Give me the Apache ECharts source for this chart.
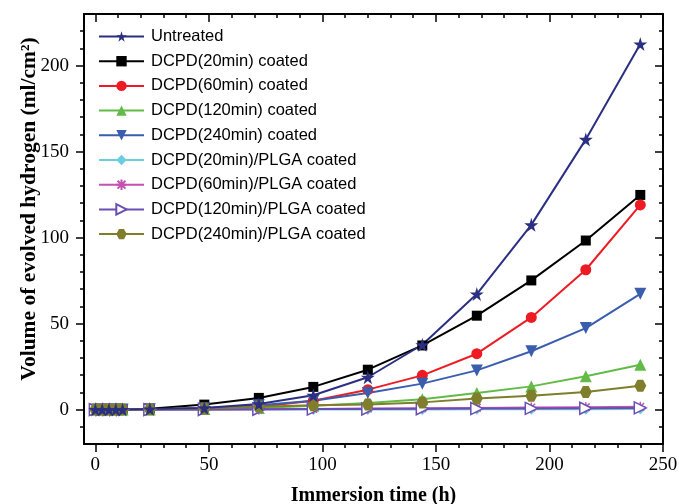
<!DOCTYPE html>
<html>
<head>
<meta charset="utf-8">
<script src="https://cdn.jsdelivr.net/npm/echarts@6/dist/echarts.min.js"></script>
<style>
  html, body { margin: 0; padding: 0; background: #fff; }
  #chart { width: 679px; height: 504px; }
</style>
</head>
<body>
<div id="chart"></div>
<script>
// Immersion times (h)
const hours = [0, 3, 6, 9, 12, 24, 48, 72, 96, 120, 144, 168, 192, 216, 240];

// Evolved hydrogen volume (ml/cm^2) for each sample
const untreated      = [0, 0, 0, 0, 0, 0.3, 1.0, 3.3, 8.3, 18.8, 37.7, 67.2, 107.4, 157.1, 212.5];
const dcpd20         = [0, 0, 0, 0, 0, 0.5, 2.9, 6.8, 13.2, 23.2, 37.3, 54.6, 75.1, 98.3, 124.8];
const dcpd60         = [0, 0, 0, 0, 0, 0.2, 0.6, 1.6, 5.2, 11.6, 19.9, 32.5, 53.6, 81.3, 119.0];
const dcpd120        = [0, 0, 0, 0, 0, 0.1, 0.4, 1.0, 2.2, 3.8, 6.0, 9.6, 13.5, 19.4, 26.1];
const dcpd240        = [0, 0, 0, 0, 0, 0.2, 0.8, 2.5, 5.2, 9.7, 15.1, 22.8, 33.9, 47.4, 67.3];
const dcpd20Plga     = [0, 0, 0, 0, 0, 0, 0, 0, 0.1, 0.1, 0.1, 0.2, 0.2, 0.2, 0.3];
const dcpd60Plga     = [0, 0, 0, 0, 0, 0, 0.1, 0.2, 0.4, 0.6, 0.8, 1.0, 1.2, 1.4, 1.6];
const dcpd120Plga    = [0, 0, 0, 0, 0, 0, 0.1, 0.2, 0.3, 0.4, 0.5, 0.6, 0.7, 0.8, 1.0];
const dcpd240Plga    = [0, 0, 0, 0, 0, 0.2, 0.7, 1.7, 2.5, 2.9, 4.2, 6.4, 8.1, 10.3, 13.9];

const seriesNames = [
  'Untreated',
  'DCPD(20min) coated',
  'DCPD(60min) coated',
  'DCPD(120min) coated',
  'DCPD(240min) coated',
  'DCPD(20min)/PLGA coated',
  'DCPD(60min)/PLGA coated',
  'DCPD(120min)/PLGA coated',
  'DCPD(240min)/PLGA coated'
];

// Axis ticks and labels
const xMajor = [0, 50, 100, 150, 200, 250];
const xMinor = [0, 10, 20, 30, 40, 50, 60, 70, 80, 90, 100, 110, 120, 130, 140, 150, 160, 170, 180, 190, 200, 210, 220, 230, 240, 250];
const yMajor = [0, 50, 100, 150, 200];
const yMinor = [-10, 0, 10, 20, 30, 40, 50, 60, 70, 80, 90, 100, 110, 120, 130, 140, 150, 160, 170, 180, 190, 200, 210, 220];

const STAR = 'path://M50,0 L61,35 L98,35 L68,57 L79,91 L50,70 L21,91 L32,57 L2,35 L39,35 Z';
const HEX = 'path://M27,2 L73,2 L98,50 L73,98 L27,98 L2,50 Z';
const ASTERISK = 'path://M50,0 L50,100 M0,50 L100,50 M12,12 L88,88 M88,12 L12,88';

function pairs(vals) {
  return hours.map((h, i) => [h, vals[i]]);
}

function lineSeries(name, vals, color, symbol, size, extra) {
  const s = {
    name: name,
    type: 'line',
    xAxisIndex: 0,
    yAxisIndex: 0,
    data: pairs(vals),
    symbol: symbol,
    symbolSize: size,
    showAllSymbol: true,
    lineStyle: { color: color, width: 2 },
    itemStyle: { color: color, borderWidth: 0 },
    emphasis: { disabled: true },
    animation: false
  };
  return Object.assign(s, extra || {});
}

const frame = { show: true, onZero: false, lineStyle: { color: '#000', width: 2 } };
const noLine = { show: false, onZero: false };
const tickFont = { fontFamily: 'Liberation Serif', fontSize: 19, color: '#000' };
const titleFont = { fontFamily: 'Liberation Serif', fontSize: 20, fontWeight: 'bold', color: '#000' };
const tickLine = { color: '#000', width: 1.5 };

const chart = echarts.init(document.getElementById('chart'), null, { renderer: 'canvas' });

chart.setOption({
  backgroundColor: '#fff',
  animation: false,
  grid: [
    { left: 84, right: 16, top: 14, bottom: 60, outerBoundsMode: 'none', containLabel: false },
    { left: 84, right: 16, top: 14, bottom: 60, outerBoundsMode: 'none', containLabel: false }
  ],
  legend: {
    data: seriesNames,
    orient: 'vertical',
    left: 98,
    top: 28,
    padding: 0,
    itemWidth: 45,
    itemHeight: 13,
    itemGap: 7.7,
    textStyle: { fontFamily: 'Liberation Sans', fontSize: 16.5, color: '#000', lineHeight: 16, padding: [0, 0, 0, 2] },
    selectedMode: false
  },
  xAxis: [
    {
      gridIndex: 0, type: 'value', position: 'bottom', min: -5, max: 250,
      name: 'Immersion time (h)', nameLocation: 'middle', nameGap: 42, nameMoveOverlap: false,
      nameTextStyle: titleFont,
      axisLine: frame,
      axisTick: { show: true, inside: false, length: 8, customValues: xMajor, lineStyle: tickLine },
      axisLabel: Object.assign({ margin: 12, customValues: xMajor }, tickFont),
      splitLine: { show: false }
    },
    {
      gridIndex: 0, type: 'value', position: 'top', min: -5, max: 250,
      axisLine: frame,
      axisTick: { show: true, inside: true, length: 8, customValues: xMajor, lineStyle: tickLine },
      axisLabel: { show: false },
      splitLine: { show: false }
    },
    {
      gridIndex: 1, type: 'value', position: 'bottom', min: -5, max: 250,
      axisLine: noLine,
      axisTick: { show: true, inside: false, length: 4, customValues: xMinor, lineStyle: tickLine },
      axisLabel: { show: false },
      splitLine: { show: false }
    },
    {
      gridIndex: 1, type: 'value', position: 'top', min: -5, max: 250,
      axisLine: noLine,
      axisTick: { show: true, inside: true, length: 4, customValues: xMinor, lineStyle: tickLine },
      axisLabel: { show: false },
      splitLine: { show: false }
    }
  ],
  yAxis: [
    {
      gridIndex: 0, type: 'value', position: 'left', min: -20, max: 230,
      name: 'Volume of evolved hydrogen (ml/cm\u00B2)', nameLocation: 'middle', nameGap: 44, nameMoveOverlap: false,
      nameTextStyle: Object.assign({}, titleFont, { fontSize: 21.5, padding: [0, 0, 0, 40] }),
      axisLine: frame,
      axisTick: { show: true, inside: false, length: 8, customValues: yMajor, lineStyle: tickLine },
      axisLabel: Object.assign({ margin: 15, customValues: yMajor }, tickFont),
      splitLine: { show: false }
    },
    {
      gridIndex: 0, type: 'value', position: 'right', min: -20, max: 230,
      axisLine: frame,
      axisTick: { show: true, inside: true, length: 8, customValues: yMajor, lineStyle: tickLine },
      axisLabel: { show: false },
      splitLine: { show: false }
    },
    {
      gridIndex: 1, type: 'value', position: 'left', min: -20, max: 230,
      axisLine: noLine,
      axisTick: { show: true, inside: false, length: 4, customValues: yMinor, lineStyle: tickLine },
      axisLabel: { show: false },
      splitLine: { show: false }
    },
    {
      gridIndex: 1, type: 'value', position: 'right', min: -20, max: 230,
      axisLine: noLine,
      axisTick: { show: true, inside: true, length: 4, customValues: yMinor, lineStyle: tickLine },
      axisLabel: { show: false },
      splitLine: { show: false }
    }
  ],
  series: [
    lineSeries(seriesNames[1], dcpd20, '#000000', 'rect', 10),
    lineSeries(seriesNames[2], dcpd60, '#ED1C24', 'circle', 11),
    lineSeries(seriesNames[3], dcpd120, '#62BB46', 'triangle', 12),
    lineSeries(seriesNames[4], dcpd240, '#3A5DAE', 'triangle', 12, { symbolRotate: 180 }),
    lineSeries(seriesNames[5], dcpd20Plga, '#6CCDE0', 'diamond', 11),
    lineSeries(seriesNames[6], dcpd60Plga, '#C452B0', ASTERISK, 10, {
      itemStyle: { color: 'transparent', borderColor: '#C452B0', borderWidth: 1.5 }
    }),
    lineSeries(seriesNames[7], dcpd120Plga, '#6A4FB2', 'triangle', 12, {
      symbolRotate: -90,
      itemStyle: { color: '#fff', borderColor: '#6A4FB2', borderWidth: 1.5 }
    }),
    lineSeries(seriesNames[8], dcpd240Plga, '#7E7E2C', HEX, 12),
    lineSeries(seriesNames[0], untreated, '#2B2F82', STAR, 14)
  ]
});
</script>
</body>
</html>
